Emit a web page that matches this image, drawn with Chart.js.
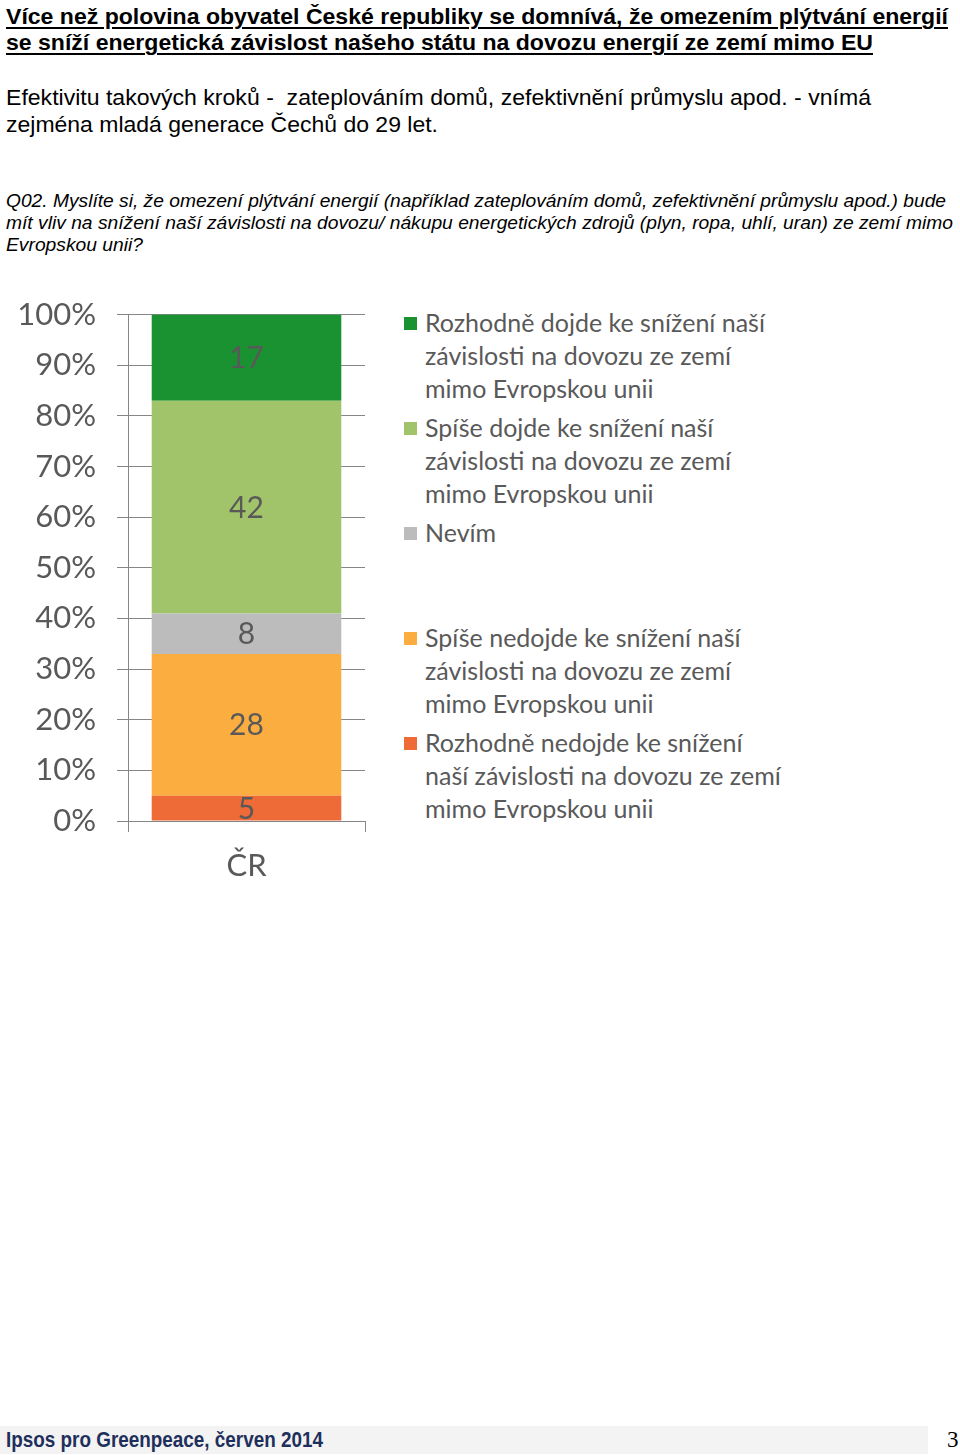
<!DOCTYPE html>
<html lang="cs">
<head>
<meta charset="utf-8">
<script src="https://cdn.jsdelivr.net/npm/chart.js@4.4.1/dist/chart.umd.min.js"></script>
<style>
  html, body { margin:0; padding:0; background:#fff; }
  body { width:960px; height:1455px; position:relative; overflow:hidden; font-family:"Liberation Sans", Arial, sans-serif; }
  .ln { position:absolute; left:6px; white-space:nowrap; transform-origin:0 0; }
  .title { font-weight:bold; font-size:22px; line-height:26px; text-decoration:underline; text-decoration-thickness:2px; text-underline-offset:3px; color:#000; }
  .body { font-size:22px; line-height:27px; color:#000; }
  .q { font-style:italic; font-size:18px; line-height:22px; color:#000; }
  #chartWrap { position:absolute; left:0; top:275px; width:380px; height:615px; }
  #legend { position:absolute; left:404px; top:306px; font-family:Lato, "Open Sans", sans-serif; font-size:25px; color:#595959; }
  .entry { position:relative; padding-left:21px; line-height:33px; margin-bottom:6px; white-space:nowrap; }
  .entry .sw { position:absolute; left:0; top:11px; width:13px; height:13px; }
  .spacer { height:66px; }
  #footband { position:absolute; left:0; top:1426px; width:928px; height:28px; background:#f3f3f3; }
  #foot { position:absolute; left:6px; top:1427px; font-weight:bold; font-size:22px; line-height:26px; color:#1f2f5c; white-space:nowrap; transform-origin:0 0; }
  #page { position:absolute; left:947px; top:1428px; font-family:"Liberation Serif", "Times New Roman", serif; font-size:23px; line-height:24px; color:#000; }
</style>
</head>
<body>
<div class="ln title" style="top:4px" data-w="942">Více než polovina obyvatel České republiky se domnívá, že omezením plýtvání energií</div>
<div class="ln title" style="top:30px" data-w="867">se sníží energetická závislost našeho státu na dovozu energií ze zemí mimo EU</div>
<div class="ln body" style="top:84px" data-w="865">Efektivitu takových kroků -&nbsp; zateplováním domů, zefektivnění průmyslu apod. - vnímá</div>
<div class="ln body" style="top:111px" data-w="432">zejména mladá generace Čechů do 29 let.</div>
<div class="ln q" style="top:190px" data-w="940">Q02. Myslíte si, že omezení plýtvání energií (například zateplováním domů, zefektivnění průmyslu apod.) bude</div>
<div class="ln q" style="top:212px" data-w="947">mít vliv na snížení naší závislosti na dovozu/ nákupu energetických zdrojů (plyn, ropa, uhlí, uran) ze zemí mimo</div>
<div class="ln q" style="top:234px" data-w="137">Evropskou unii?</div>

<div id="chartWrap"><canvas id="c"></canvas></div>
<div id="legend"></div>

<div id="footband"></div>
<div id="foot" data-w="317">Ipsos pro Greenpeace, červen 2014</div>
<div id="page">3</div>

<script>
// ---- data ----
const categories = ["ČR"];
const seriesNames = [
  "Rozhodně nedojde ke snížení naší závislosti na dovozu ze zemí mimo Evropskou unii",
  "Spíše nedojde ke snížení naší závislosti na dovozu ze zemí mimo Evropskou unii",
  "Nevím",
  "Spíše dojde ke snížení naší závislosti na dovozu ze zemí mimo Evropskou unii",
  "Rozhodně dojde ke snížení naší závislosti na dovozu ze zemí mimo Evropskou unii"
];
const rozhodneNe = [5];
const spiseNe = [28];
const nevim = [8];
const spiseAno = [42];
const rozhodneAno = [17];
const yTicks = [0, 10, 20, 30, 40, 50, 60, 70, 80, 90, 100];
// legend line breaks as in the reference
const legendLines = {
  "Rozhodně dojde ke snížení naší závislosti na dovozu ze zemí mimo Evropskou unii": ["Rozhodně dojde ke snížení naší", "závislosti na dovozu ze zemí", "mimo Evropskou unii"],
  "Spíše dojde ke snížení naší závislosti na dovozu ze zemí mimo Evropskou unii": ["Spíše dojde ke snížení naší", "závislosti na dovozu ze zemí", "mimo Evropskou unii"],
  "Nevím": ["Nevím"],
  "Spíše nedojde ke snížení naší závislosti na dovozu ze zemí mimo Evropskou unii": ["Spíše nedojde ke snížení naší", "závislosti na dovozu ze zemí", "mimo Evropskou unii"],
  "Rozhodně nedojde ke snížení naší závislosti na dovozu ze zemí mimo Evropskou unii": ["Rozhodně nedojde ke snížení", "naší závislosti na dovozu ze zemí", "mimo Evropskou unii"]
};
const colors = ["#ee6a36", "#fbad40", "#bcbcbc", "#a1c46a", "#1a9232"];

// fit text lines to reference widths
document.querySelectorAll('[data-w]').forEach(el => {
  const w = el.getBoundingClientRect().width;
  const target = parseFloat(el.dataset.w);
  el.style.transform = 'scaleX(' + (target / w) + ')';
});

const seriesData = [rozhodneNe, spiseNe, nevim, spiseAno, rozhodneAno];
const datasets = seriesData.map((d, i) => ({
  label: seriesNames[i],
  data: d,
  backgroundColor: colors[i],
  borderWidth: 0,
  barPercentage: 0.8,
  categoryPercentage: 1.0
}));

const valueLabels = {
  id: 'valueLabels',
  afterDatasetsDraw(chart) {
    const ctx = chart.ctx;
    ctx.save();
    ctx.font = '30px Lato, "Open Sans", sans-serif';
    ctx.fillStyle = '#595959';
    ctx.textAlign = 'center';
    ctx.textBaseline = 'middle';
    chart.data.datasets.forEach((ds, i) => {
      const meta = chart.getDatasetMeta(i);
      meta.data.forEach((bar, j) => {
        const p = bar.getProps(['x', 'y', 'base'], true);
        ctx.fillText(String(ds.data[j]), p.x, (p.y + p.base) / 2 + 1);
      });
    });
    ctx.restore();
  }
};

const chart = new Chart(document.getElementById('c'), {
  type: 'bar',
  data: { labels: categories, datasets },
  options: {
    responsive: true,
    maintainAspectRatio: false,
    animation: false,
    layout: { padding: { top: 10, right: 15, left: 0, bottom: 0 } },
    plugins: { legend: { display: false }, tooltip: { enabled: false } },
    scales: {
      x: {
        stacked: true,
        grid: { display: true, drawOnChartArea: false, drawTicks: true, tickLength: 11, color: '#868686', offset: true },
        border: { display: true, color: '#868686' },
        ticks: { color: '#595959', font: { family: 'Lato, "Open Sans", sans-serif', size: 31 }, padding: 15 },
        afterFit(s) { s.height = 69; }
      },
      y: {
        stacked: true,
        min: 0, max: 100,
        afterBuildTicks(s) { s.ticks = yTicks.map(v => ({ value: v })); },
        grid: { color: '#868686', tickLength: 11, drawTicks: true },
        border: { display: true, color: '#868686' },
        ticks: { color: '#595959', font: { family: 'Lato, "Open Sans", sans-serif', size: 31 }, padding: 21, callback: v => v + '%' },
        afterFit(s) { s.width = 128; }
      }
    }
  },
  plugins: [valueLabels]
});

// HTML legend built from the chart datasets (top series first)
const legend = document.getElementById('legend');
const order = [4, 3, 2, 1, 0];
order.forEach((idx, k) => {
  const ds = chart.data.datasets[idx];
  const e = document.createElement('div');
  e.className = 'entry';
  const sw = document.createElement('span');
  sw.className = 'sw';
  sw.style.background = ds.backgroundColor;
  e.appendChild(sw);
  (legendLines[ds.label] || [ds.label]).forEach(t => {
    const l = document.createElement('div');
    l.textContent = t;
    e.appendChild(l);
  });
  legend.appendChild(e);
  if (k === 2) {
    const sp = document.createElement('div');
    sp.className = 'spacer';
    legend.appendChild(sp);
  }
});
</script>
</body>
</html>
